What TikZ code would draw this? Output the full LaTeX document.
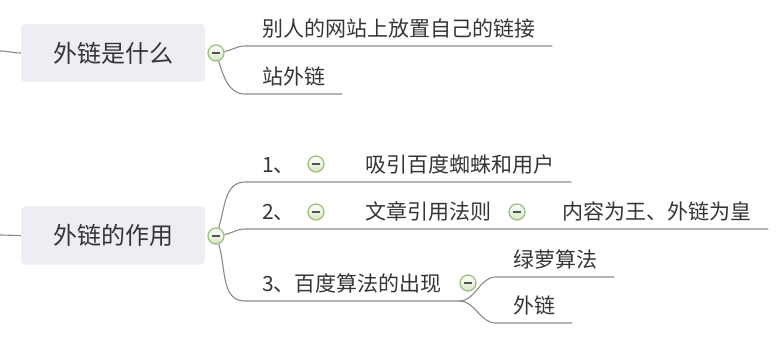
\documentclass[tikz,border=0pt]{standalone}
\usepackage{fontspec}
\setmainfont{Noto Sans CJK SC}
\usepackage{tikz}
\definecolor{topicfill}{HTML}{EDEDF3}
\definecolor{inkgray}{HTML}{353535}
\definecolor{linegray}{HTML}{8A8A8A}
\definecolor{foldgreen}{HTML}{9BC27E}
\definecolor{foldfill}{HTML}{D5E8C4}
\tikzset{
  topic/.style={fill=topicfill, rounded corners=4pt, minimum width=184pt, minimum height=58pt,
    inner sep=0pt, text=inkgray, font=\fontsize{24}{28}\selectfont},
  leaf/.style={anchor=south west, inner xsep=17pt, inner ysep=6.5pt, text height=15pt,
    text depth=3pt, text=inkgray, font=\fontsize{21}{25}\selectfont},
  fold/.style={circle, draw=foldgreen, line width=1.3pt, top color=white, bottom color=foldfill,
    minimum size=16pt, inner sep=0pt,
    path picture={\draw[inkgray!85, line width=1.2pt] ([xshift=-4pt]path picture bounding box.center)
      -- ([xshift=4pt]path picture bounding box.center);}},
  branch/.style={draw=linegray, line width=1.1pt}
}

\begin{document}
\begin{tikzpicture}[x=1pt, y=1pt]
\useasboundingbox (0,0) rectangle (776,-358);
% first topic
\node[topic] (what) at (113,-53) {外链是什么};
\node[fold] (whatfold) at (216,-53) {};
\coordinate (whatin) at (0,-51);
\draw[branch] (whatin) to[out=0,in=180] (what.west);
\node[leaf] (whatlink) at (245,-46) {别人的网站上放置自己的链接};
\node[leaf] (whatsite) at (245,-94) {站外链};
\draw[branch] (whatfold) to[out=10,in=180] (whatlink.south west) -- (whatlink.south east);
\draw[branch] (whatfold) to[out=-72,in=180] (whatsite.south west) -- (whatsite.south east);
% second topic
\node[topic] (role) at (113,-235.5) {外链的作用};
\node[fold] (rolefold) at (216,-236) {};
\coordinate (rolein) at (0,-235);
\draw[branch] (rolein) -- (role.west);
% row 1
\node[leaf] (roleone) at (245,-182) {1、};
\node[fold] (onefold) at (316,-164) {};
\node[leaf] (spider) at (348,-182) {吸引百度蜘蛛和用户};
\draw[branch] (rolefold) to[out=72,in=180] (roleone.south west) -- (spider.south east);
% row 2
\node[leaf] (roletwo) at (245,-229) {2、};
\node[fold] (twofold) at (316,-212) {};
\node[leaf] (quote) at (348,-229) {文章引用法则};
\node[fold] (quotefold) at (517,-212) {};
\node[leaf] (king) at (545,-229) {内容为王、外链为皇};
\draw[branch] (rolefold) to[out=10,in=180] (roletwo.south west) -- (king.south east);
% row 3
\node[leaf] (rolethree) at (245,-301) {3、百度算法的出现};
\node[fold] (threefold) at (468,-283) {};
\draw[branch] (rolefold) to[out=-72,in=180] (rolethree.south west) -- (rolethree.south east);
\node[leaf] (algo) at (496,-277) {绿萝算法};
\node[leaf] (algolink) at (496,-323) {外链};
\draw[branch] (rolethree.south east) to[out=0,in=180] (algo.south west) -- (algo.south east);
\draw[branch] (rolethree.south east) to[out=0,in=180] (algolink.south west) -- (algolink.south east);
\end{tikzpicture}
\end{document}
